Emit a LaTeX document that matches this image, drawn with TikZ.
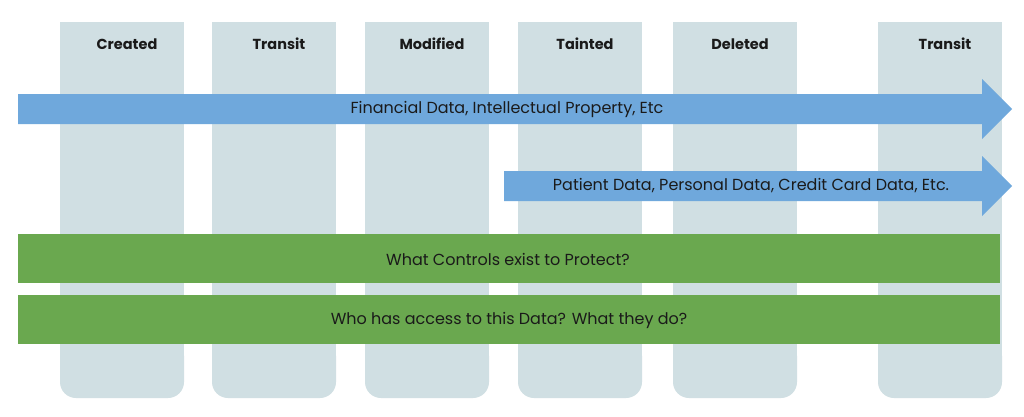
\documentclass[tikz,border=0pt]{standalone}
\usepackage{fontspec}
\setmainfont{Poppins}
\definecolor{colfill}{HTML}{D0DFE3}
\definecolor{arrblue}{HTML}{6FA8DC}
\definecolor{bargreen}{HTML}{6AA84F}
\definecolor{txt}{HTML}{1A1A1A}
\begin{document}
\begin{tikzpicture}[x=1pt,y=-1pt,
  hdr/.style={font=\fontsize{14.5}{17}\selectfont\bfseries, text=txt, inner sep=0pt},
  lbl/.style={font=\fontsize{16}{19}\selectfont, text=txt, inner sep=0pt}]
\useasboundingbox (0,0) rectangle (1024,416);
\fill[white] (0,0) rectangle (1024,416);
% columns
\foreach \x/\t/\n in {60/Created/c1, 212/Transit/c2, 365/Modified/c3, 518/Tainted/c4, 673/Deleted/c5, 878/Transit/c6}{
  \fill[colfill] (\x,22) rectangle (\x+124,370);
  \fill[colfill, rounded corners=16pt] (\x,340) rectangle (\x+124,398);
  \node[hdr] (h\n) at (\x+67,44) {\t};
}
% blue arrows
\fill[arrblue] (18,94) -- (982,94) -- (982,79) -- (1012,109) -- (982,139) -- (982,124) -- (18,124) -- cycle;
\node[lbl] (a1) at (507,109) {Financial Data, Intellectual Property, Etc};
\fill[arrblue] (504,171) -- (982,171) -- (982,156) -- (1012,186) -- (982,216) -- (982,201) -- (504,201) -- cycle;
\node[lbl] (a2) at (751,186) {Patient Data, Personal Data, Credit Card Data, Etc.};
% green bars
\fill[bargreen] (18,234) rectangle (1000,283);
\node[lbl] (g1) at (508,259) {What Controls exist to Protect?};
\fill[bargreen] (18,295) rectangle (1000,344);
\node[lbl] (g2) at (509,320) {Who has access to this Data? What they do?};
\end{tikzpicture}
\end{document}
